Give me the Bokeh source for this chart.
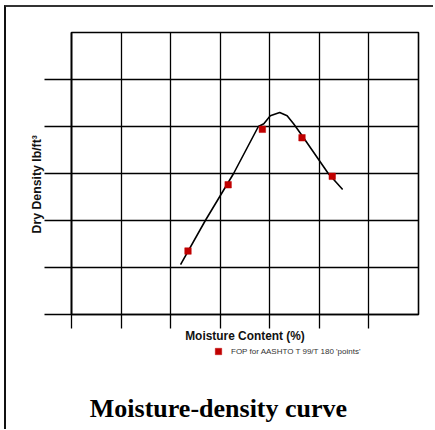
from bokeh.plotting import figure
from bokeh.layouts import column
from bokeh.models import Legend, LegendItem, Range1d, Title, Label
from bokeh.embed import file_html
from bokeh.resources import INLINE

# ---- data (arbitrary units) ----
curve_x = [2.20, 2.70, 3.27, 3.77, 3.88, 4.01, 4.20, 4.35, 4.48, 4.65, 5.18, 5.47]
curve_y = [1.06, 2.00, 3.00, 4.00, 4.06, 4.23, 4.30, 4.23, 4.06, 3.81, 3.00, 2.66]
pt_x = [2.35, 3.16, 3.85, 4.65, 5.26]
pt_y = [1.35, 2.76, 3.94, 3.76, 2.94]
x_ticks = [0, 1, 2, 3, 4, 5, 6]
y_ticks = [0, 1, 2, 3, 4, 5]
x_title = "Moisture Content (%)"
y_title = "Dry Density lb/ft\u00b3"
legend_label = "FOP for AASHTO T 99/T 180 'points'"
chart_title = "Moisture-density curve"

MARK = "#c00000"

# ---------------- main chart ----------------
p = figure(frame_width=347, frame_height=282,
           x_range=Range1d(0, 7), y_range=Range1d(0, 6),
           output_backend="svg", toolbar_location=None,
           min_border_left=65, min_border_right=15, min_border_top=25, min_border_bottom=30,
           background_fill_color="white", border_fill_color="white")

p.outline_line_color = "black"
p.outline_line_width = 1.6
p.outline_line_alpha = 1.0

for ax, ticks, tout in ((p.xaxis, x_ticks, 14), (p.yaxis, y_ticks, 27)):
    ax.ticker = ticks
    ax.major_tick_out = tout
    ax.major_tick_in = 0
    ax.major_tick_line_color = "black"
    ax.major_tick_line_width = 1.3
    ax.minor_tick_line_color = None
    ax.major_label_text_font_size = "0px"
    ax.major_label_standoff = 0
    ax.axis_line_color = "black"
    ax.axis_line_width = 1.6

p.xaxis.axis_label = x_title
p.xaxis.axis_label_standoff = 0
p.xaxis.axis_label_text_font = "Liberation Sans"
p.xaxis.axis_label_text_font_style = "bold"
p.xaxis.axis_label_text_font_size = "11.9px"
p.xaxis.axis_label_text_color = "#111111"

p.xgrid.grid_line_color = "black"
p.ygrid.grid_line_color = "black"
p.xgrid.grid_line_width = 1.3
p.ygrid.grid_line_width = 1.3
p.xgrid.grid_line_alpha = 1.0
p.ygrid.grid_line_alpha = 1.0

p.line(curve_x, curve_y, line_color="black", line_width=1.6)
p.scatter(pt_x, pt_y, marker="square", size=6.5, fill_color=MARK,
          line_color=MARK, line_width=0.5)

p.add_layout(Title(text=y_title, align="left", offset=81, standoff=1,
                   text_font="Liberation Sans", text_font_style="bold",
                   text_font_size="12.3px", text_color="#111111"), "left")

# ---------------- legend + caption strip ----------------
q = figure(width=427, height=84, x_range=Range1d(100, 200), y_range=Range1d(100, 200),
           output_backend="svg", toolbar_location=None,
           x_axis_type=None, y_axis_type=None,
           min_border_left=0, min_border_right=0, min_border_top=0, min_border_bottom=0,
           background_fill_color="white", border_fill_color="white")
q.outline_line_color = None
q.grid.visible = False
# same series, outside this strip's visible range: only its legend entry shows
leg_r = q.scatter(pt_x, pt_y, marker="square", size=6.5, fill_color=MARK,
                  line_color=MARK, line_width=0.5)

legend = Legend(items=[LegendItem(label=legend_label, renderers=[leg_r])],
                location=(139, 70), orientation="vertical",
                border_line_color=None, background_fill_alpha=0,
                padding=0, margin=0, spacing=0,
                glyph_width=16, glyph_height=16, label_height=16,
                label_standoff=5, label_text_font="Liberation Sans",
                label_text_font_size="8px", label_text_color="#333333",
                label_text_baseline="middle")
q.add_layout(legend)

q.add_layout(Label(x=18.3, y=21, x_units="screen", y_units="screen", text=chart_title,
                   text_align="left", text_baseline="alphabetic",
                   text_font="Liberation Serif", text_font_style="bold",
                   text_font_size="26px", text_color="black"))

layout = column(p, q, spacing=0)
layout.styles = {"margin-left": "4px", "margin-top": "5px",
                 "border-left": "2px solid #111111", "border-top": "2px solid #333333"}

open("out.html", "w").write(file_html(layout, INLINE))
